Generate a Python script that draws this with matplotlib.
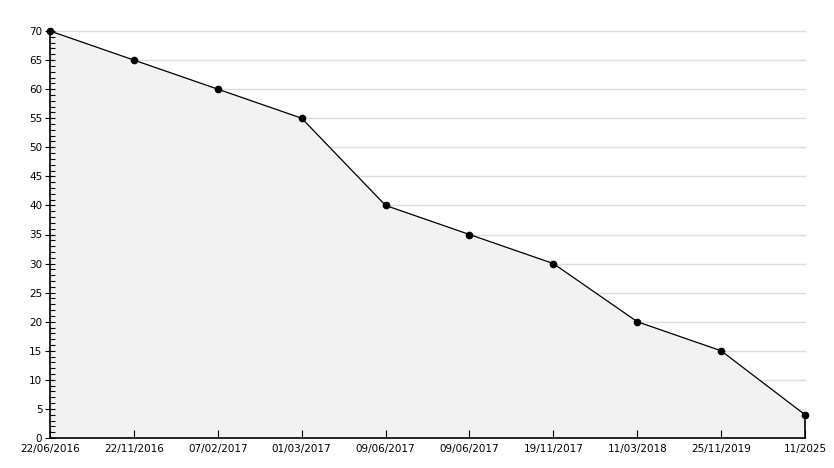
import matplotlib.pyplot as plt
from matplotlib.ticker import MultipleLocator

dates = ['22/06/2016', '22/11/2016', '07/02/2017', '01/03/2017', '09/06/2017',
         '09/06/2017', '19/11/2017', '11/03/2018', '25/11/2019', '11/2025']
values = [70, 65, 60, 55, 40, 35, 30, 20, 15, 4]

fig = plt.figure(figsize=(8.34, 4.68), dpi=100)
ax = fig.add_axes([50/834, 30/468, 755/834, 407/468])

x = list(range(len(values)))
# grid under the fill, ticks above it
for yv in range(5, 71, 5):
    ax.axhline(yv, color='#dcdcdc', lw=1, zorder=0.5, clip_on=False)
ax.fill_between(x, values, 0, color='#f2f2f2', zorder=1)
ax.plot(x, values, color='black', lw=0.9, marker='o', ms=4.5, zorder=3, clip_on=False)
ax.plot([x[-1], x[-1]], [0, values[-1]], color='black', lw=1.2, zorder=3, clip_on=False)

ax.set_xlim(0, len(values) - 1)
ax.set_ylim(0, 70)
ax.yaxis.set_major_locator(MultipleLocator(5))
ax.yaxis.set_minor_locator(MultipleLocator(1))
ax.set_xticks(x)
ax.set_xticklabels(dates)
ax.set_axisbelow(False)

for s in ['top', 'right']:
    ax.spines[s].set_visible(False)
ax.spines['left'].set_linewidth(1.2)
ax.spines['bottom'].set_linewidth(1.2)
ax.tick_params(axis='x', direction='in', length=6, labelsize=7.5, pad=4)
ax.tick_params(axis='y', which='major', direction='inout', length=7, labelsize=7.5, pad=2)
ax.tick_params(axis='y', which='minor', direction='in', length=3.5, width=0.8, color='black')
ax.set_facecolor('white')

fig.savefig('out.png', dpi=100)
